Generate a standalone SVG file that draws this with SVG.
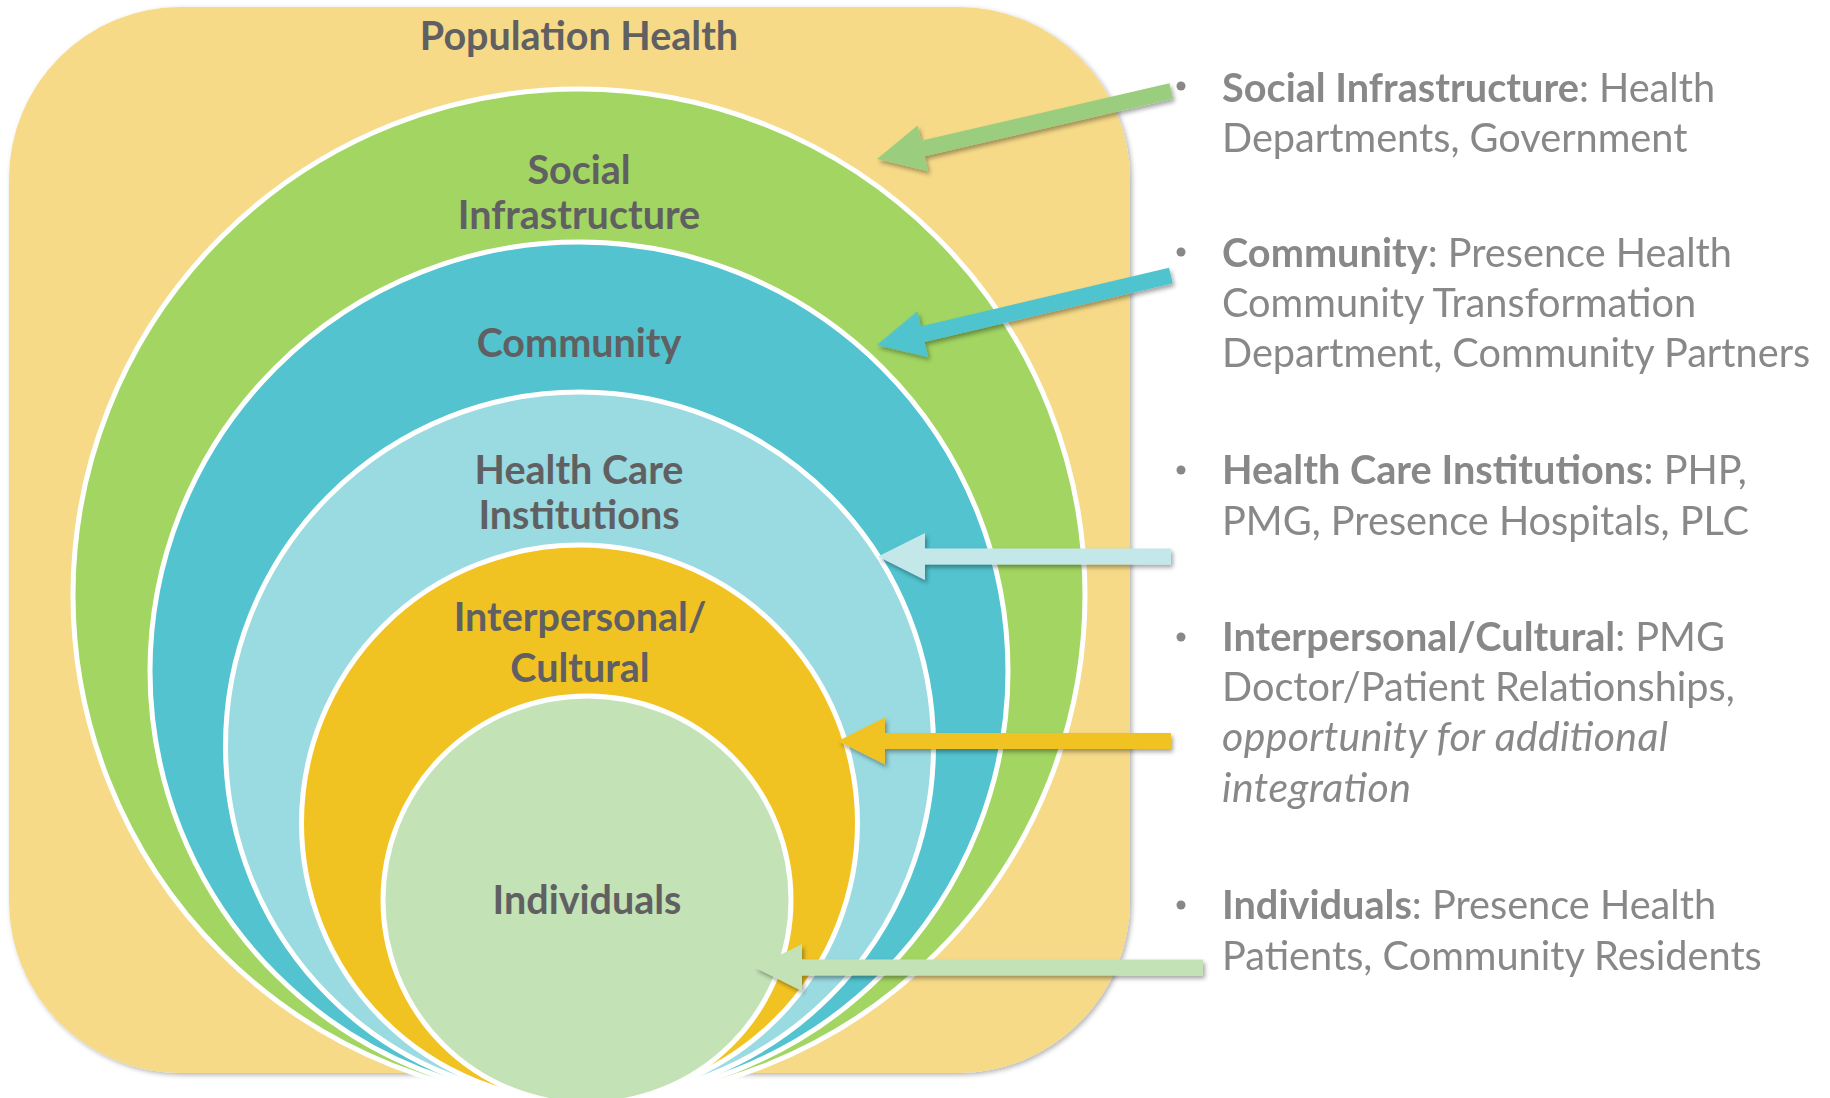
<svg xmlns="http://www.w3.org/2000/svg" width="1830" height="1098" viewBox="0 0 1830 1098">
  <style>
    .ring { stroke: #ffffff; stroke-width: 5; }
    .label { font-family: Lato, "Open Sans", sans-serif; font-weight: 700; font-size: 39.5px; fill: #606062; text-anchor: middle; }
    .desc { font-family: Lato, "Open Sans", sans-serif; font-size: 39.7px; fill: #888888; }
    .b { font-weight: 700; }
    .i { font-style: italic; font-size: 41px; }
    .bullet { fill: #888888; }
  </style>
  <defs>
    <filter id="shadow" x="-10%" y="-30%" width="130%" height="180%">
      <feDropShadow dx="2" dy="3" stdDeviation="2" flood-color="#000000" flood-opacity="0.35"/>
    </filter>
    <filter id="rectshadow" x="-5%" y="-5%" width="110%" height="110%">
      <feDropShadow dx="2" dy="2" stdDeviation="2.5" flood-color="#000000" flood-opacity="0.3"/>
    </filter>
  </defs>

  <g id="population-health">
    <rect x="9" y="7" width="1121" height="1066" rx="172" ry="172" fill="#F6DA88" filter="url(#rectshadow)"/>
    <text class="label" x="579" y="50">Population Health</text>
  </g>

  <g id="social-infrastructure">
    <circle class="ring" cx="579" cy="595" r="506" fill="#A2D562"/>
    <text class="label" x="579" y="184">Social</text>
    <text class="label" x="579" y="229">Infrastructure</text>
  </g>

  <g id="community">
    <circle class="ring" cx="579" cy="671" r="429" fill="#52C3CF"/>
    <text class="label" x="579" y="357">Community</text>
  </g>

  <g id="health-care-institutions">
    <circle class="ring" cx="579.5" cy="746" r="354" fill="#9ADAE1"/>
    <text class="label" x="579" y="484">Health Care</text>
    <text class="label" x="579" y="529">Institutions</text>
  </g>

  <g id="interpersonal-cultural">
    <circle class="ring" cx="579.5" cy="823" r="278" fill="#F1C322"/>
    <text class="label" x="580" y="631">Interpersonal/</text>
    <text class="label" x="580" y="682">Cultural</text>
  </g>

  <g id="individuals">
    <circle class="ring" cx="587" cy="900" r="204" fill="#C3E2B6"/>
    <text class="label" x="587" y="914">Individuals</text>
  </g>

  <g id="connectors" filter="url(#shadow)">
    <polygon transform="translate(877,159) rotate(-13)" points="0,0 47,-23.5 47,-8 302,-8 302,8 47,8 47,23.5" fill="#9BCD7E"/>
    <polygon transform="translate(877,345) rotate(-13.3)" points="0,0 47,-23.5 47,-8 302,-8 302,8 47,8 47,23.5" fill="#4FC3CE"/>
    <polygon transform="translate(878,556.5)" points="0,0 47,-23.5 47,-8 293,-8 293,8 47,8 47,23.5" fill="#C4E8EA"/>
    <polygon transform="translate(838,741)" points="0,0 47,-23.5 47,-8 333,-8 333,8 47,8 47,23.5" fill="#F0C320"/>
    <polygon transform="translate(755,967.5)" points="0,0 47,-23.5 47,-8 448,-8 448,8 47,8 47,23.5" fill="#C3E3B7"/>
  </g>

  <g id="desc-social-infrastructure">
    <circle class="bullet" cx="1181" cy="86" r="4.5"/>
    <text class="desc" x="1222" y="102"><tspan class="b">Social Infrastructure</tspan>: Health</text>
    <text class="desc" x="1222" y="152">Departments, Government</text>
  </g>

  <g id="desc-community">
    <circle class="bullet" cx="1181" cy="252" r="4.5"/>
    <text class="desc" x="1222" y="267"><tspan class="b">Community</tspan>: Presence Health</text>
    <text class="desc" x="1222" y="317">Community Transformation</text>
    <text class="desc" x="1222" y="367">Department, Community Partners</text>
  </g>

  <g id="desc-health-care-institutions">
    <circle class="bullet" cx="1181" cy="470" r="4.5"/>
    <text class="desc" x="1222" y="484"><tspan class="b">Health Care Institutions</tspan>: PHP,</text>
    <text class="desc" x="1222" y="535">PMG, Presence Hospitals, PLC</text>
  </g>

  <g id="desc-interpersonal-cultural">
    <circle class="bullet" cx="1181" cy="637" r="4.5"/>
    <text class="desc" x="1222" y="651"><tspan class="b">Interpersonal/Cultural</tspan>: PMG</text>
    <text class="desc" x="1222" y="701">Doctor/Patient Relationships,</text>
    <text class="desc i" x="1222" y="751" textLength="446" lengthAdjust="spacing">opportunity for additional</text>
    <text class="desc i" x="1222" y="802" textLength="189" lengthAdjust="spacing">integration</text>
  </g>

  <g id="desc-individuals">
    <circle class="bullet" cx="1181" cy="905" r="4.5"/>
    <text class="desc" x="1222" y="919"><tspan class="b">Individuals</tspan>: Presence Health</text>
    <text class="desc" x="1222" y="970">Patients, Community Residents</text>
  </g>
</svg>
